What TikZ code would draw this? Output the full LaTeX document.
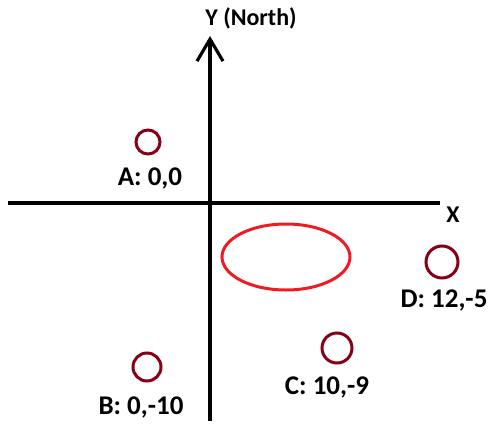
\documentclass[tikz,border=0pt]{standalone}
\usepackage{fontspec}
\setmainfont{Carlito}
\usetikzlibrary{arrows.meta,shapes.geometric}
\definecolor{darkred}{HTML}{880015}
\definecolor{paintred}{HTML}{ED1C24}
\tikzset{
  axis/.style={line width=3.2pt, black},
  pt/.style={circle, draw=darkred, line width=3pt, inner sep=0pt},
  lbl/.style={font=\bfseries\fontsize{27}{30}\selectfont, inner sep=0pt, anchor=center},
  axlbl/.style={lbl, font=\bfseries\fontsize{24}{28}\selectfont},
}
\begin{document}
\begin{tikzpicture}[x=1pt,y=-1pt]
\useasboundingbox (0,0) rectangle (492,423);
\coordinate (ybot) at (210,421);
\coordinate (ytop) at (210,36);
\coordinate (xl) at (8,203);
\coordinate (xr) at (440,203);
\draw[axis, -{Straight Barb[length=22pt,width=26pt,line width=3.2pt]}] (ybot) -- (ytop);
\draw[axis] (xl) -- (xr);
\node[axlbl] (ylab) at (251,18) {Y (North)};
\node[axlbl] (xlab) at (453,215) {X};
\node[pt, minimum size=24pt] (A) at (148,142) {};
\node[lbl] (Al) at (150,178) {A: 0,0};
\node[pt, minimum size=28pt] (B) at (147,367) {};
\node[lbl] (Bl) at (141,407) {B: 0,-10};
\node[pt, minimum size=30pt] (C) at (337,348) {};
\node[lbl] (Cl) at (327,387) {C: 10,-9};
\node[pt, minimum size=32pt] (D) at (442,262) {};
\node[lbl] (Dl) at (444,300) {D: 12,-5};
\node[ellipse, draw=paintred, line width=3pt, minimum width=128pt, minimum height=66pt, inner sep=0pt] (E) at (286,257) {};
\end{tikzpicture}
\end{document}
